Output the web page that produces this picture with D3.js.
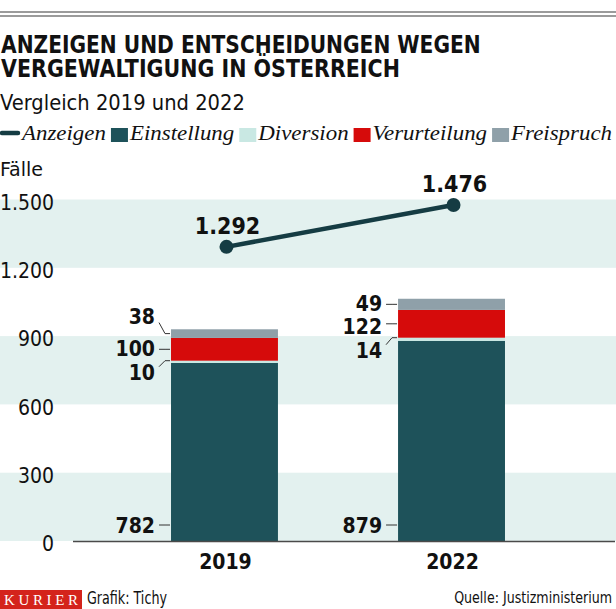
<!DOCTYPE html>
<html><head><meta charset="utf-8">
<script src="https://cdn.jsdelivr.net/npm/d3@7"></script>
<style>
html,body{margin:0;padding:0;background:#fff;}
svg{display:block;}
</style>
</head><body>
<svg id="chart" width="616" height="609"></svg>
<script>
// ---- data ----
const years = ["2019", "2022"];
const anzeigen = [1292, 1476];
const einstellung = [782, 879];
const diversion = [10, 14];
const verurteilung = [100, 122];
const freispruch = [38, 49];
const yTickValues = [0, 300, 600, 900, 1200, 1500];
const seriesKeys = ["einstellung", "diversion", "verurteilung", "freispruch"];
const seriesNames = ["Einstellung", "Diversion", "Verurteilung", "Freispruch"];
const titleLines = ["ANZEIGEN UND ENTSCHEIDUNGEN WEGEN", "VERGEWALTIGUNG IN ÖSTERREICH"];
const subtitle = "Vergleich 2019 und 2022";
const unitLabel = "Fälle";
const sourceText = "Quelle: Justizministerium";
const creditText = "Grafik: Tichy";

// ---- styles / layout ----
const colors = {einstellung:"#1e525a", diversion:"#c9e8e3", verurteilung:"#d60b0b", freispruch:"#8fa0a9", line:"#153c43", band:"#e3f1ef"};
const SANS = "'Liberation Sans Narrow','DejaVu Sans Condensed','Roboto Condensed',Roboto,'Liberation Sans',sans-serif";
const SERIF = "'Liberation Serif','DejaVu Serif',serif";
// label vertical nudges (px) relative to segment middle
const labelNudge = {
  "2019": {diversion: 12, verurteilung: -1, freispruch: -17},
  "2022": {diversion: 13, verurteilung: 3, freispruch: -1}
};

const de = d3.formatLocale({decimal: ",", thousands: ".", grouping: [3], currency: ["", "€"]});
const fmt = de.format(",d");

const svg = d3.select("#chart");
const W = 616;

// top double rule
[12, 16].forEach(yy => svg.append("line").attr("x1", 0).attr("x2", W).attr("y1", yy).attr("y2", yy)
  .attr("stroke", "#7a7a7a").attr("stroke-width", 1.7));

// fit a text horizontally to a target width using a scale transform
function fitText(sel, x0, y0, width, anchor) {
  const w = sel.node().getComputedTextLength();
  const s = width / w;
  sel.attr("text-anchor", anchor || "start").attr("x", 0).attr("y", 0)
    .attr("transform", `translate(${x0},${y0}) scale(${s},1)`);
  return sel;
}

// title
const tl = [480, 399];
titleLines.forEach((t, i) => {
  const tx = svg.append("text").attr("font-family", SANS).attr("font-weight", "bold")
    .attr("font-size", 25).attr("fill", "#111").text(t);
  fitText(tx, 1, 53 + i * 24, tl[i]);
});
fitText(svg.append("text").attr("font-family", SANS).attr("font-size", 22).attr("fill", "#111").text(subtitle), 0, 110, 245);

// legend
const legItems = [{name: "Anzeigen", type: "line"}].concat(seriesKeys.map((k, i) => ({name: seriesNames[i], type: "sq", key: k})));
const lg = svg.append("g");
const legTexts = legItems.map(d => lg.append("text").attr("font-family", SERIF).attr("font-style", "italic")
  .attr("font-size", 21).attr("fill", "#111").text(d.name));
const natW = legTexts.map(t => t.node().getComputedTextLength());
const markerW = d => d.type === "line" ? 20 : 17;
const fixed = d3.sum(legItems, d => markerW(d) + 2) + 5 * (legItems.length - 1);
const k = (612 - fixed) / d3.sum(natW);
let lx = 0;
legItems.forEach((d, i) => {
  if (d.type === "line") {
    lg.append("line").attr("x1", lx + 2).attr("x2", lx + 18).attr("y1", 133).attr("y2", 133)
      .attr("stroke", colors.line).attr("stroke-width", 4.5).attr("stroke-linecap", "round");
  } else {
    lg.append("rect").attr("x", lx).attr("y", 128).attr("width", 17).attr("height", 14).attr("fill", colors[d.key]);
  }
  lx += markerW(d) + 2;
  fitText(legTexts[i], lx, 140, natW[i] * k);
  lx += natW[i] * k + 5;
});

fitText(svg.append("text").attr("font-family", SANS).attr("font-size", 20).attr("fill", "#111").text(unitLabel), 0, 176, 43);

// scales
const y = d3.scaleLinear().domain([0, 1500]).range([541, 199.5]);
const x = d3.scaleBand().domain(years).range([57.5, 618.5]).paddingInner(0.529).paddingOuter(0.5);
const bw = x.bandwidth();

// bands
for (let i = 0; i < yTickValues.length - 1; i += 2) {
  svg.append("rect").attr("x", 0).attr("width", W)
    .attr("y", y(yTickValues[i + 1])).attr("height", y(yTickValues[i]) - y(yTickValues[i + 1]))
    .attr("fill", colors.band);
}

// y axis labels
const yAxis = d3.axisLeft(y).tickValues(yTickValues).tickFormat(fmt).tickSize(0).tickPadding(0);
const ga = svg.append("g").attr("transform", "translate(54,3)").call(yAxis);
ga.select(".domain").remove();
ga.selectAll("text").attr("font-family", SANS).attr("font-size", 21).attr("fill", "#111");

// bars
const rows = years.map((yr, i) => ({year: yr, einstellung: einstellung[i], diversion: diversion[i], verurteilung: verurteilung[i], freispruch: freispruch[i]}));
const stack = d3.stack().keys(seriesKeys)(rows);
stack.forEach(layer => {
  svg.append("g").selectAll("rect").data(layer).join("rect")
    .attr("x", d => x(d.data.year)).attr("width", bw)
    .attr("y", d => y(d[1])).attr("height", d => y(d[0]) - y(d[1]))
    .attr("fill", colors[layer.key]);
});

// baseline
svg.append("line").attr("x1", 73).attr("x2", 615).attr("y1", y(0) + 0.5).attr("y2", y(0) + 0.5)
  .attr("stroke", "#4a4a4a").attr("stroke-width", 1.4);

// segment labels with leaders
stack.forEach(layer => {
  layer.forEach(d => {
    const yr = d.data.year;
    const bx = x(yr);
    const segY = layer.key === "diversion" ? y(d[1]) : (y(d[0]) + y(d[1])) / 2;
    let ly;
    if (layer.key === "einstellung") ly = y(0) - 16;
    else ly = segY + labelNudge[yr][layer.key];
    const targetY = layer.key === "einstellung" ? ly : segY;
    const dy = Math.max(-6, Math.min(6, targetY - ly));
    svg.append("path")
      .attr("d", `M${bx - 12},${ly + dy}L${bx - 6},${targetY}L${bx - 1},${targetY}`)
      .attr("fill", "none").attr("stroke", "#333").attr("stroke-width", 1);
    svg.append("text").attr("x", bx - 16).attr("y", ly).attr("dy", "0.36em")
      .attr("text-anchor", "end").attr("font-family", SANS).attr("font-weight", "bold")
      .attr("font-size", 21).attr("fill", "#111").text(fmt(d.data[layer.key]));
  });
});

// Anzeigen line
const pts = years.map((yr, i) => ({year: yr, v: anzeigen[i]}));
svg.append("path").datum(pts)
  .attr("d", d3.line().x(d => x(d.year) + bw / 2 + 2).y(d => y(d.v)))
  .attr("fill", "none").attr("stroke", colors.line).attr("stroke-width", 4.5);
svg.append("g").selectAll("circle").data(pts).join("circle")
  .attr("cx", d => x(d.year) + bw / 2 + 2).attr("cy", d => y(d.v)).attr("r", 7).attr("fill", colors.line);
svg.append("g").selectAll("text").data(pts).join("text")
  .attr("x", d => x(d.year) + bw / 2 + 3).attr("y", d => y(d.v) - 13)
  .attr("text-anchor", "middle").attr("font-family", SANS).attr("font-weight", "bold")
  .attr("font-size", 23).attr("fill", "#111").text(d => fmt(d.v));

// x axis labels
const xAxis = d3.axisBottom(x).tickSize(0).tickPadding(0);
const gx = svg.append("g").attr("transform", `translate(1,${569})`).call(xAxis);
gx.select(".domain").remove();
gx.selectAll("text").attr("dy", 0).attr("font-family", SANS).attr("font-weight", "bold")
  .attr("font-size", 21).attr("fill", "#111");

// footer
svg.append("rect").attr("x", 0).attr("y", 590).attr("width", 82).attr("height", 19).attr("fill", "#d4231b");
svg.append("text").attr("x", 4).attr("y", 605).attr("font-family", SERIF).attr("font-size", 15)
  .attr("fill", "#fff").attr("textLength", 74).attr("lengthAdjust", "spacing").text("KURIER");
fitText(svg.append("text").attr("font-family", SANS).attr("font-size", 17).attr("fill", "#111").text(creditText), 87, 604, 80);
fitText(svg.append("text").attr("font-family", SANS).attr("font-size", 16).attr("fill", "#111").text(sourceText), 612, 603, 158, "end");
</script>
</body></html>
